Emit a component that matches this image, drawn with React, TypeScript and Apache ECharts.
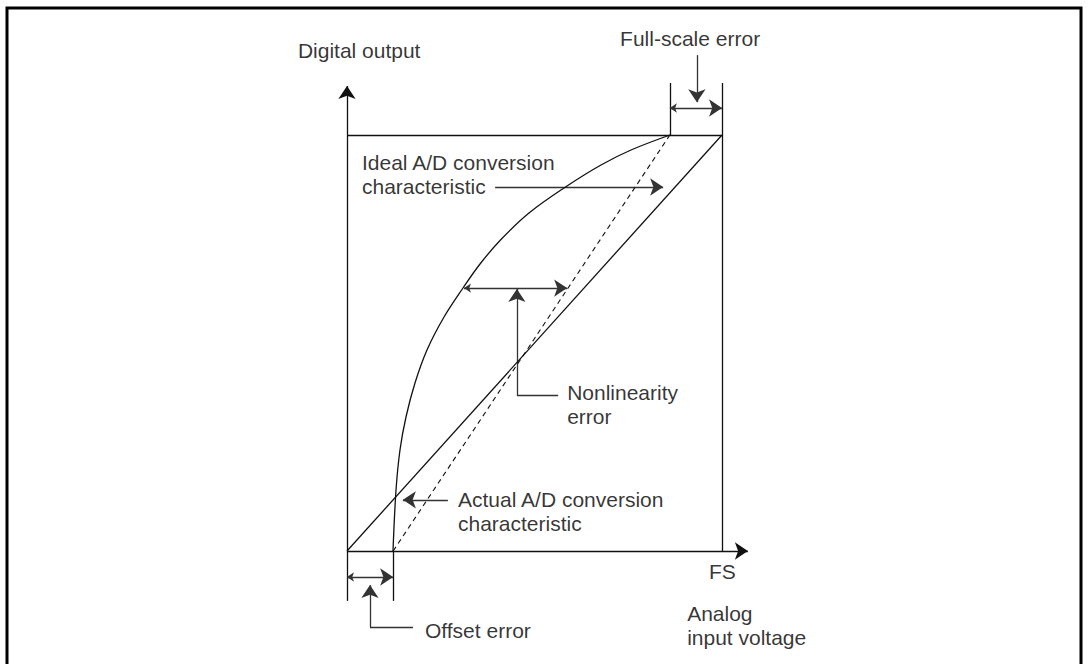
import React, { useEffect, useRef } from "react";
import * as echarts from "echarts";

// Geometry of the diagram in data units (x: 0 = origin, 100 = FS; y: 0 = origin, 100 = full scale output)
const OFFSET_X = 12.3;
const FULL_SCALE_X = 86.1;

const idealLine = [[0, 0], [100, 100]];
const actualStraight = [[OFFSET_X, 0], [FULL_SCALE_X, 100]];
const actualCurve = [
  [12.27, 0],
  [13.07, 14.66],
  [14.13, 24.28],
  [15.73, 32.21],
  [18.13, 40.38],
  [21.33, 48.32],
  [25.87, 56.25],
  [30.93, 63.22],
  [35.47, 68.99],
  [40.93, 74.76],
  [48.53, 81.25],
  [58.67, 87.74],
  [67.73, 92.79],
  [75.73, 96.39],
  [86.13, 100],
];

const plainLines = [
  [[0, 100], [100, 100]], // top of box
  [[100, 112.5], [100, 0]], // right side of box (with full-scale extension)
  [[FULL_SCALE_X, 100], [FULL_SCALE_X, 112.5]],
  [[0, 0], [0, -12]],
  [[OFFSET_X, 0], [OFFSET_X, -12]],
];

const leaderLines = [
  [[56.3, 37.5], [45.3, 37.5]], // nonlinearity leader
  [[17.6, -18.3], [6.13, -18.3]], // offset leader
];

const arrowLines = [
  [[0, 0], [0, 111.8]], // y axis
  [[0, 0], [106.9, 0]], // x axis
  [[93.3, 119.2], [93.3, 107.9]], // full-scale pointer
  [[39.5, 87.5], [84.3, 87.5]], // ideal pointer
  [[26.9, 12.3], [14.9, 12.3]], // actual pointer
  [[45.3, 37.5], [45.3, 63.0]], // nonlinearity pointer
  [[6.13, -18.3], [6.13, -8.2]], // offset pointer
];

const doubleArrows = [
  [[FULL_SCALE_X, 106.5], [100, 106.5]],
  [[0, -6.25], [OFFSET_X, -6.25]],
  [[31.2, 63.2], [58.7, 63.2]],
];

const labelsText = [
  { text: "Digital output", pos: [-13.1, 120.4], align: "left" },
  { text: "Full-scale error", pos: [91.5, 123.3], align: "center" },
  { text: "Ideal A/D conversion\ncharacteristic", pos: [4.0, 90.4], align: "left" },
  { text: "Nonlinearity\nerror", pos: [58.7, 35.2], align: "left" },
  { text: "Actual A/D conversion\ncharacteristic", pos: [29.6, 9.4], align: "left" },
  { text: "FS", pos: [100.1, -5.0], align: "center" },
  { text: "Analog\ninput voltage", pos: [90.7, -17.8], align: "left" },
  { text: "Offset error", pos: [20.8, -19.0], align: "left" },
];

const INK = "#111";
const POINTER = "#333";
const FONT = "'Liberation Sans', Arial, sans-serif";

export default function App() {
  const ref = useRef<HTMLDivElement>(null);
  useEffect(() => {
    if (!ref.current) return;
    const chart = echarts.init(ref.current, undefined, { renderer: "svg" });
    const lineBase = { width: 1.3, color: INK, opacity: 1 };
    const pointerBase = { width: 1.3, color: POINTER, opacity: 1 };
    const linesSeries = (data: number[][][], style: any, symbol: any) => ({
      type: "lines",
      coordinateSystem: "cartesian2d",
      clip: false,
      silent: true,
      symbol,
      symbolSize: [7, 13],
      lineStyle: style,
      itemStyle: { color: style.color, opacity: 1 },
      data: data.map((c) => ({ coords: c })),
    });
    chart.setOption({
      animation: false,
      backgroundColor: "#fff",
      grid: { left: 347, top: 135, width: 375, height: 416 },
      xAxis: { type: "value", min: 0, max: 100, show: false },
      yAxis: { type: "value", min: 0, max: 100, show: false },
      graphic: [
        {
          type: "rect",
          shape: { x: 7, y: 8, width: 1074, height: 700 },
          style: { fill: "none", stroke: "#000", lineWidth: 3 },
          silent: true,
        },
      ],
      series: [
        linesSeries(plainLines, lineBase, "none"),
        linesSeries(leaderLines, pointerBase, "none"),
        linesSeries(arrowLines.slice(0, 2), lineBase, ["none", "arrow"]),
        linesSeries(arrowLines.slice(2), pointerBase, ["none", "arrow"]),
        linesSeries(doubleArrows, pointerBase, ["arrow", "arrow"]),
        {
          type: "line",
          clip: false,
          silent: true,
          showSymbol: false,
          symbol: "none",
          lineStyle: lineBase,
          data: idealLine,
        },
        {
          type: "line",
          clip: false,
          silent: true,
          showSymbol: false,
          symbol: "none",
          lineStyle: { width: 1.1, color: INK, opacity: 1, type: [5, 4] },
          data: actualStraight,
        },
        {
          type: "line",
          clip: false,
          silent: true,
          showSymbol: false,
          symbol: "none",
          smooth: 0.35,
          lineStyle: lineBase,
          data: actualCurve,
        },
        {
          type: "scatter",
          clip: false,
          silent: true,
          symbolSize: 1,
          itemStyle: { color: "rgba(0,0,0,0)" },
          label: {
            show: true,
            position: "inside",
            verticalAlign: "middle",
            color: "#000",
            fontSize: 21,
            lineHeight: 24,
            fontFamily: FONT,
          },
          data: labelsText.map((l) => ({
            value: l.pos,
            label: { formatter: l.text, align: l.align },
          })),
        },
      ],
    });
    return () => chart.dispose();
  }, []);
  return (
    <div
      ref={ref}
      style={{ position: "fixed", left: 0, top: 0, width: 1089, height: 664 }}
    />
  );
}
